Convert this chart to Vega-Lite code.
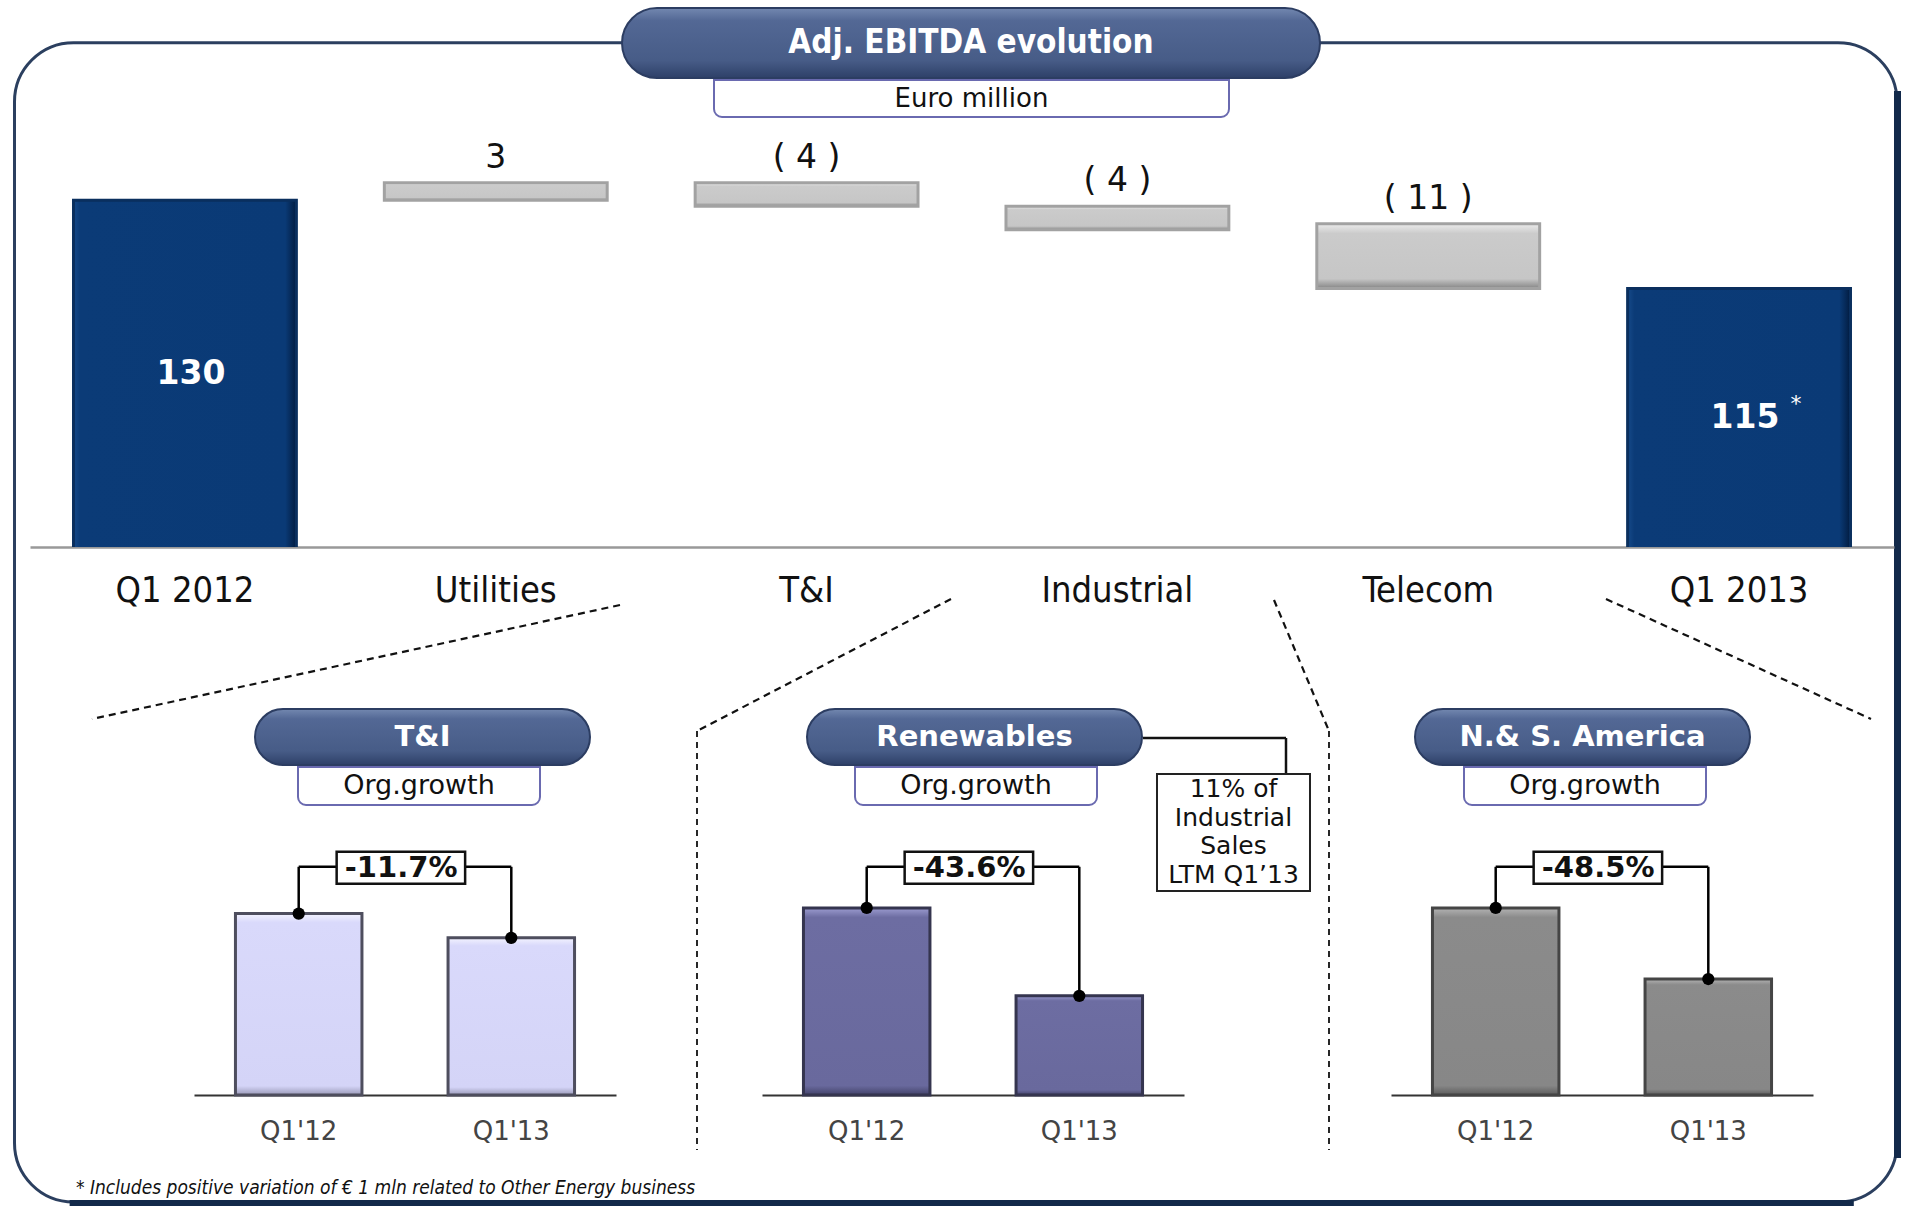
{
  "$schema": "https://vega.github.io/schema/vega-lite/v6.json",
  "background": "white",
  "padding": {"left": 12, "top": 7, "right": 4, "bottom": 0},
  "autosize": {"type": "pad"},
  "config": {"view": {"stroke": null}, "axis": {"grid": false}, "concat": {"spacing": 0}, "font": "DejaVu Sans"},
  "datasets": {
    "wf": [
      {"cat": "Q1 2012", "start": 0, "end": 130, "label": "130", "type": "total"},
      {"cat": "Utilities", "start": 130, "end": 133, "label": "3", "type": "delta"},
      {"cat": "T&I", "start": 133, "end": 129, "label": "( 4 )", "type": "delta"},
      {"cat": "Industrial", "start": 129, "end": 125, "label": "( 4 )", "type": "delta"},
      {"cat": "Telecom", "start": 126, "end": 115, "label": "( 11 )", "type": "delta"},
      {"cat": "Q1 2013", "start": 0, "end": 115, "label": "115", "type": "total"}
    ],
    "sub": [
      {"panel": "T&I", "period": "Q1'12", "value": 97},
      {"panel": "T&I", "period": "Q1'13", "value": 84},
      {"panel": "Renewables", "period": "Q1'12", "value": 100},
      {"panel": "Renewables", "period": "Q1'13", "value": 53},
      {"panel": "N.& S. America", "period": "Q1'12", "value": 100},
      {"panel": "N.& S. America", "period": "Q1'13", "value": 62}
    ],
    "growth": [
      {"panel": "T&I", "from": "Q1'12", "to": "Q1'13", "label": "-11.7%"},
      {"panel": "Renewables", "from": "Q1'12", "to": "Q1'13", "label": "-43.6%"},
      {"panel": "N.& S. America", "from": "Q1'12", "to": "Q1'13", "label": "-48.5%"}
    ]
  },
  "vconcat": [
    {
      "width": 1888, "height": 1,
      "data": {"values": [{}]},
      "layer": [
        {"mark": {"type": "rect", "filled": false, "stroke": "#2b3f5f", "strokeWidth": 3, "cornerRadius": 59},
         "encoding": {
           "x": {"datum": 0.000794, "type": "quantitative", "scale": {"domain": [0, 1], "nice": false, "zero": false}, "axis": null},
           "x2": {"datum": 0.997881},
           "y": {"datum": 0.970225, "type": "quantitative", "scale": {"domain": [0, 1], "range": [1199, 0], "nice": false, "zero": false}, "axis": null},
           "y2": {"datum": 0.003336}}},
        {"mark": {"type": "rule", "color": "#12294a", "strokeWidth": 7},
         "encoding": {"x": {"datum": 0.998146, "type": "quantitative"}, "y": {"datum": 0.93, "type": "quantitative"}, "y2": {"datum": 0.04}}},
        {"mark": {"type": "rule", "color": "#12294a", "strokeWidth": 6},
         "encoding": {"x": {"datum": 0.03, "type": "quantitative"}, "x2": {"datum": 0.975}, "y": {"datum": 0.002502, "type": "quantitative"}}},
        {"mark": {"type": "rule", "color": "#111111", "strokeWidth": 2.2, "strokeDash": [7, 5]},
         "encoding": {"x": {"datum": 0.321504, "type": "quantitative"}, "x2": {"datum": 0.041843}, "y": {"datum": 0.501251, "type": "quantitative"}, "y2": {"datum": 0.406172}}},
        {"mark": {"type": "rule", "color": "#111111", "strokeWidth": 2.2, "strokeDash": [7, 5]},
         "encoding": {"x": {"datum": 0.496822, "type": "quantitative"}, "x2": {"datum": 0.362288}, "y": {"datum": 0.506255, "type": "quantitative"}, "y2": {"datum": 0.396164}}},
        {"mark": {"type": "rule", "color": "#111111", "strokeWidth": 1.8, "strokeDash": [6, 5]},
         "encoding": {"x": {"datum": 0.362288, "type": "quantitative"}, "y": {"datum": 0.396164, "type": "quantitative"}, "y2": {"datum": 0.046706}}},
        {"mark": {"type": "rule", "color": "#111111", "strokeWidth": 2.2, "strokeDash": [7, 5]},
         "encoding": {"x": {"datum": 0.667903, "type": "quantitative"}, "x2": {"datum": 0.697034}, "y": {"datum": 0.505421, "type": "quantitative"}, "y2": {"datum": 0.396164}}},
        {"mark": {"type": "rule", "color": "#111111", "strokeWidth": 1.8, "strokeDash": [6, 5]},
         "encoding": {"x": {"datum": 0.697034, "type": "quantitative"}, "y": {"datum": 0.396164, "type": "quantitative"}, "y2": {"datum": 0.046706}}},
        {"mark": {"type": "rule", "color": "#111111", "strokeWidth": 2.2, "strokeDash": [7, 5]},
         "encoding": {"x": {"datum": 0.843750, "type": "quantitative"}, "x2": {"datum": 0.984110}, "y": {"datum": 0.506255, "type": "quantitative"}, "y2": {"datum": 0.406172}}},
        {"mark": {"type": "rule", "color": "#111111", "strokeWidth": 2.5},
         "encoding": {"x": {"datum": 0.598517, "type": "quantitative"}, "x2": {"datum": 0.674258}, "y": {"datum": 0.390325, "type": "quantitative"}}},
        {"mark": {"type": "rule", "color": "#111111", "strokeWidth": 2.5},
         "encoding": {"x": {"datum": 0.674258, "type": "quantitative"}, "y": {"datum": 0.390325, "type": "quantitative"}, "y2": {"datum": 0.359466}}},
        {"mark": {"type": "rect", "fill": "white", "stroke": "#222222", "strokeWidth": 2},
         "encoding": {"x": {"datum": 0.605932, "type": "quantitative"}, "x2": {"datum": 0.686970}, "y": {"datum": 0.360300, "type": "quantitative"}, "y2": {"datum": 0.262719}}},
        {"mark": {"type": "text", "text": ["11% of", "Industrial", "Sales", "LTM Q1’13"], "fontSize": 25, "lineHeight": 28.7, "color": "#111111", "baseline": "middle"},
         "encoding": {"x": {"datum": 0.646451, "type": "quantitative"}, "y": {"datum": 0.347790, "type": "quantitative"}}},
        {"mark": {"type": "text", "text": "* Includes positive variation of € 1 mln related to Other Energy business", "font": "DejaVu Sans Condensed, DejaVu Sans", "fontSize": 19, "fontStyle": "italic", "align": "left", "baseline": "middle", "color": "#111111"},
         "encoding": {"x": {"datum": 0.033369, "type": "quantitative"}, "y": {"datum": 0.015013, "type": "quantitative"}}}
      ]
    },
    {
      "vconcat": [
        {
          "hconcat": [
            {"width": 608, "height": 1, "data": {"values": [{}]}, "mark": {"type": "rect", "opacity": 0}, "encoding": {}},
            {
              "width": 698, "height": 70,
              "data": {"values": [{}]},
              "layer": [
                {"mark": {"type": "rect", "cornerRadius": 35, "stroke": "#2c3d62", "strokeWidth": 2,
                  "fill": {"gradient": "linear", "x1": 0, "y1": 0, "x2": 0, "y2": 1, "stops": [{"offset": 0, "color": "#7388b0"}, {"offset": 0.18, "color": "#536895"}, {"offset": 0.75, "color": "#475c87"}, {"offset": 1, "color": "#2e4068"}]}},
                 "encoding": {}},
                {"mark": {"type": "text", "text": "Adj. EBITDA evolution", "font": "DejaVu Sans Condensed, DejaVu Sans", "fontSize": 33, "fontWeight": "bold", "color": "white", "baseline": "middle"}, "encoding": {}}
              ]
            }
          ]
        },
        {
          "hconcat": [
            {"width": 700, "height": 1, "data": {"values": [{}]}, "mark": {"type": "rect", "opacity": 0}, "encoding": {}},
            {
              "width": 515, "height": 37,
              "data": {"values": [{}]},
              "layer": [
                {"mark": {"type": "rect", "fill": "white", "stroke": "#6a6ab0", "strokeWidth": 2, "cornerRadiusBottomLeft": 8, "cornerRadiusBottomRight": 8}, "encoding": {}},
                {"mark": {"type": "text", "text": "Euro million", "fontSize": 26, "color": "#111111", "baseline": "middle"}, "encoding": {}}
              ]
            }
          ]
        },
        {
          "hconcat": [
            {"width": 17, "height": 1, "data": {"values": [{}]}, "mark": {"type": "rect", "opacity": 0}, "encoding": {}},
            {
              "width": 1864, "height": 429,
              "data": {"name": "wf"},
              "encoding": {
                "x": {"field": "cat", "type": "nominal",
                  "scale": {"domain": ["Q1 2012", "Utilities", "T&I", "Industrial", "Telecom", "Q1 2013"], "paddingInner": 0.283, "paddingOuter": 0.14},
                  "axis": {"title": null, "domain": true, "domainColor": "#999999", "domainWidth": 2.5, "ticks": true, "tickSize": 0, "labelFont": "DejaVu Sans Condensed, DejaVu Sans", "labelFontSize": 36, "labelColor": "#111111", "labelPadding": 43, "labelBaseline": "middle", "labelAngle": 0}}
              },
              "layer": [
                {"transform": [{"filter": "datum.type === 'total'"}],
                 "mark": {"type": "bar", "stroke": "#0a2f5e", "strokeWidth": 3, "clip": true,
                   "fill": {"gradient": "linear", "x1": 0, "y1": 0, "x2": 1, "y2": 0, "stops": [{"offset": 0, "color": "#164a8a"}, {"offset": 0.03, "color": "#0b3b77"}, {"offset": 0.95, "color": "#0a3a76"}, {"offset": 1, "color": "#021c40"}]}},
                 "encoding": {"y": {"field": "end", "type": "quantitative", "scale": {"domain": [71, 144], "zero": false, "nice": false}, "axis": null}, "y2": {"field": "start"}}},
                {"transform": [{"filter": "datum.type === 'delta'"}],
                 "mark": {"type": "bar", "stroke": "#a2a2a2", "strokeWidth": 3,
                   "fill": {"gradient": "linear", "x1": 0, "y1": 0, "x2": 0, "y2": 1, "stops": [{"offset": 0, "color": "#ececec"}, {"offset": 0.15, "color": "#cbcbcb"}, {"offset": 0.85, "color": "#c6c6c6"}, {"offset": 1, "color": "#858585"}]}},
                 "encoding": {"y": {"field": "end", "type": "quantitative"}, "y2": {"field": "start"}}},
                {"transform": [{"filter": "datum.type === 'delta'"}, {"calculate": "max(datum.start, datum.end)", "as": "top"}],
                 "mark": {"type": "text", "fontSize": 33, "dy": -15, "baseline": "alphabetic", "color": "#111111"},
                 "encoding": {"y": {"field": "top", "type": "quantitative"}, "text": {"field": "label"}}},
                {"transform": [{"filter": "datum.type === 'total'"}, {"calculate": "(datum.end + 71) / 2", "as": "mid"}],
                 "mark": {"type": "text", "fontSize": 33, "fontWeight": "bold", "color": "white", "baseline": "middle", "dx": 6},
                 "encoding": {"y": {"field": "mid", "type": "quantitative"}, "text": {"field": "label"}}},
                {"transform": [{"filter": "datum.cat === 'Q1 2013'"}, {"calculate": "(datum.end + 71) / 2", "as": "mid"}],
                 "mark": {"type": "text", "text": "*", "fontSize": 22, "color": "white", "dx": 57, "dy": -14, "baseline": "middle"},
                 "encoding": {"y": {"field": "mid", "type": "quantitative"}}}
              ]
            }
          ]
        },
        {"width": 1, "height": 100, "data": {"values": [{}]}, "mark": {"type": "rect", "opacity": 0}, "encoding": {}},
        {
          "hconcat": [
            {"width": 181, "height": 1, "data": {"values": [{}]}, "mark": {"type": "rect", "opacity": 0}, "encoding": {}},
            {
              "vconcat": [
                {"hconcat": [
                  {"width": 60, "height": 1, "data": {"values": [{}]}, "mark": {"type": "rect", "opacity": 0}, "encoding": {}},
                  {"width": 335, "height": 56, "data": {"values": [{}]}, "layer": [
                    {"mark": {"type": "rect", "cornerRadius": 28, "stroke": "#2c3d62", "strokeWidth": 2,
                      "fill": {"gradient": "linear", "x1": 0, "y1": 0, "x2": 0, "y2": 1, "stops": [{"offset": 0, "color": "#7388b0"}, {"offset": 0.18, "color": "#536895"}, {"offset": 0.75, "color": "#475c87"}, {"offset": 1, "color": "#2e4068"}]}}, "encoding": {}},
                    {"mark": {"type": "text", "text": "T&I", "fontSize": 29, "fontWeight": "bold", "color": "white", "baseline": "middle"}, "encoding": {}}
                  ]}
                ]},
                {"hconcat": [
                  {"width": 103, "height": 1, "data": {"values": [{}]}, "mark": {"type": "rect", "opacity": 0}, "encoding": {}},
                  {"width": 242, "height": 38, "data": {"values": [{}]}, "layer": [
                    {"mark": {"type": "rect", "fill": "white", "stroke": "#6a6ab0", "strokeWidth": 2, "cornerRadiusBottomLeft": 8, "cornerRadiusBottomRight": 8}, "encoding": {}},
                    {"mark": {"type": "text", "text": "Org.growth", "fontSize": 27, "color": "#111111", "baseline": "middle"}, "encoding": {}}
                  ]}
                ]},
                {
                  "width": 422, "height": 289,
                  "encoding": {"x": {"field": "period", "type": "nominal", "scale": {"domain": ["Q1'12", "Q1'13"], "paddingInner": 0.405, "paddingOuter": 0.195},
                    "axis": {"title": null, "domainColor": "#333333", "domainWidth": 2, "ticks": true, "tickSize": 0, "labelFontSize": 26, "labelColor": "#444444", "labelPadding": 36, "labelBaseline": "middle", "labelAngle": 0}}},
                  "layer": [
                    {"data": {"name": "sub"}, "transform": [{"filter": "datum.panel === 'T&I'"}],
                     "mark": {"type": "bar", "stroke": "#4e4e5e", "strokeWidth": 3,
                       "fill": {"gradient": "linear", "x1": 0, "y1": 0, "x2": 0, "y2": 1, "stops": [{"offset": 0, "color": "#f3f3ff"}, {"offset": 0.05, "color": "#d9d9fb"}, {"offset": 0.95, "color": "#d4d4f7"}, {"offset": 1, "color": "#9a9ab8"}]}},
                     "encoding": {"y": {"field": "value", "type": "quantitative", "scale": {"domain": [0, 154.5], "nice": false}, "axis": null}}},
                    {"data": {"name": "sub"}, "transform": [{"filter": "datum.panel === 'T&I'"}],
                     "mark": {"type": "rule", "color": "#000000", "strokeWidth": 2.5},
                     "encoding": {"y": {"field": "value", "type": "quantitative"}, "y2": {"datum": 122}}},
                    {"data": {"name": "growth"}, "transform": [{"filter": "datum.panel === 'T&I'"}],
                     "mark": {"type": "rule", "color": "#000000", "strokeWidth": 2.5},
                     "encoding": {"x": {"field": "from", "type": "nominal", "bandPosition": 0.5, "title": null}, "x2": {"field": "to", "bandPosition": 0.5}, "y": {"datum": 122, "type": "quantitative"}}},
                    {"data": {"name": "growth"}, "transform": [{"filter": "datum.panel === 'T&I'"}],
                     "mark": {"type": "rect", "fill": "white", "stroke": "#111111", "strokeWidth": 2.5},
                     "encoding": {"x": {"field": "from", "type": "nominal", "bandPosition": 0.8, "title": null}, "x2": {"field": "to", "bandPosition": 0.135}, "y": {"datum": 130, "type": "quantitative"}, "y2": {"datum": 113}}},
                    {"data": {"name": "growth"}, "transform": [{"filter": "datum.panel === 'T&I'"}],
                     "mark": {"type": "text", "fontSize": 29, "fontWeight": "bold", "color": "#111111", "baseline": "middle"},
                     "encoding": {"x": {"field": "from", "type": "nominal", "bandPosition": 1.31, "title": null}, "y": {"datum": 121.5, "type": "quantitative"}, "text": {"field": "label"}}},
                    {"data": {"name": "sub"}, "transform": [{"filter": "datum.panel === 'T&I'"}],
                     "mark": {"type": "point", "filled": true, "color": "#000000", "size": 150, "opacity": 1},
                     "encoding": {"y": {"field": "value", "type": "quantitative"}}}
                  ]
                }
              ]
            },
            {"width": 146, "height": 1, "data": {"values": [{}]}, "mark": {"type": "rect", "opacity": 0}, "encoding": {}},
            {
              "vconcat": [
                {"hconcat": [
                  {"width": 44, "height": 1, "data": {"values": [{}]}, "mark": {"type": "rect", "opacity": 0}, "encoding": {}},
                  {"width": 335, "height": 56, "data": {"values": [{}]}, "layer": [
                    {"mark": {"type": "rect", "cornerRadius": 28, "stroke": "#2c3d62", "strokeWidth": 2,
                      "fill": {"gradient": "linear", "x1": 0, "y1": 0, "x2": 0, "y2": 1, "stops": [{"offset": 0, "color": "#7388b0"}, {"offset": 0.18, "color": "#536895"}, {"offset": 0.75, "color": "#475c87"}, {"offset": 1, "color": "#2e4068"}]}}, "encoding": {}},
                    {"mark": {"type": "text", "text": "Renewables", "fontSize": 29, "fontWeight": "bold", "color": "white", "baseline": "middle"}, "encoding": {}}
                  ]}
                ]},
                {"hconcat": [
                  {"width": 92, "height": 1, "data": {"values": [{}]}, "mark": {"type": "rect", "opacity": 0}, "encoding": {}},
                  {"width": 242, "height": 38, "data": {"values": [{}]}, "layer": [
                    {"mark": {"type": "rect", "fill": "white", "stroke": "#6a6ab0", "strokeWidth": 2, "cornerRadiusBottomLeft": 8, "cornerRadiusBottomRight": 8}, "encoding": {}},
                    {"mark": {"type": "text", "text": "Org.growth", "fontSize": 27, "color": "#111111", "baseline": "middle"}, "encoding": {}}
                  ]}
                ]},
                {
                  "width": 422, "height": 289,
                  "encoding": {"x": {"field": "period", "type": "nominal", "scale": {"domain": ["Q1'12", "Q1'13"], "paddingInner": 0.405, "paddingOuter": 0.195},
                    "axis": {"title": null, "domainColor": "#333333", "domainWidth": 2, "ticks": true, "tickSize": 0, "labelFontSize": 26, "labelColor": "#444444", "labelPadding": 36, "labelBaseline": "middle", "labelAngle": 0}}},
                  "layer": [
                    {"data": {"name": "sub"}, "transform": [{"filter": "datum.panel === 'Renewables'"}],
                     "mark": {"type": "bar", "stroke": "#35354f", "strokeWidth": 3,
                       "fill": {"gradient": "linear", "x1": 0, "y1": 0, "x2": 0, "y2": 1, "stops": [{"offset": 0, "color": "#9c9cd0"}, {"offset": 0.05, "color": "#6d6da2"}, {"offset": 0.95, "color": "#69699d"}, {"offset": 1, "color": "#43436a"}]}},
                     "encoding": {"y": {"field": "value", "type": "quantitative", "scale": {"domain": [0, 154.5], "nice": false}, "axis": null}}},
                    {"data": {"name": "sub"}, "transform": [{"filter": "datum.panel === 'Renewables'"}],
                     "mark": {"type": "rule", "color": "#000000", "strokeWidth": 2.5},
                     "encoding": {"y": {"field": "value", "type": "quantitative"}, "y2": {"datum": 122}}},
                    {"data": {"name": "growth"}, "transform": [{"filter": "datum.panel === 'Renewables'"}],
                     "mark": {"type": "rule", "color": "#000000", "strokeWidth": 2.5},
                     "encoding": {"x": {"field": "from", "type": "nominal", "bandPosition": 0.5, "title": null}, "x2": {"field": "to", "bandPosition": 0.5}, "y": {"datum": 122, "type": "quantitative"}}},
                    {"data": {"name": "growth"}, "transform": [{"filter": "datum.panel === 'Renewables'"}],
                     "mark": {"type": "rect", "fill": "white", "stroke": "#111111", "strokeWidth": 2.5},
                     "encoding": {"x": {"field": "from", "type": "nominal", "bandPosition": 0.8, "title": null}, "x2": {"field": "to", "bandPosition": 0.135}, "y": {"datum": 130, "type": "quantitative"}, "y2": {"datum": 113}}},
                    {"data": {"name": "growth"}, "transform": [{"filter": "datum.panel === 'Renewables'"}],
                     "mark": {"type": "text", "fontSize": 29, "fontWeight": "bold", "color": "#111111", "baseline": "middle"},
                     "encoding": {"x": {"field": "from", "type": "nominal", "bandPosition": 1.31, "title": null}, "y": {"datum": 121.5, "type": "quantitative"}, "text": {"field": "label"}}},
                    {"data": {"name": "sub"}, "transform": [{"filter": "datum.panel === 'Renewables'"}],
                     "mark": {"type": "point", "filled": true, "color": "#000000", "size": 150, "opacity": 1},
                     "encoding": {"y": {"field": "value", "type": "quantitative"}}}
                  ]
                }
              ]
            },
            {"width": 207, "height": 1, "data": {"values": [{}]}, "mark": {"type": "rect", "opacity": 0}, "encoding": {}},
            {
              "vconcat": [
                {"hconcat": [
                  {"width": 23, "height": 1, "data": {"values": [{}]}, "mark": {"type": "rect", "opacity": 0}, "encoding": {}},
                  {"width": 335, "height": 56, "data": {"values": [{}]}, "layer": [
                    {"mark": {"type": "rect", "cornerRadius": 28, "stroke": "#2c3d62", "strokeWidth": 2,
                      "fill": {"gradient": "linear", "x1": 0, "y1": 0, "x2": 0, "y2": 1, "stops": [{"offset": 0, "color": "#7388b0"}, {"offset": 0.18, "color": "#536895"}, {"offset": 0.75, "color": "#475c87"}, {"offset": 1, "color": "#2e4068"}]}}, "encoding": {}},
                    {"mark": {"type": "text", "text": "N.& S. America", "fontSize": 29, "fontWeight": "bold", "color": "white", "baseline": "middle"}, "encoding": {}}
                  ]}
                ]},
                {"hconcat": [
                  {"width": 72, "height": 1, "data": {"values": [{}]}, "mark": {"type": "rect", "opacity": 0}, "encoding": {}},
                  {"width": 242, "height": 38, "data": {"values": [{}]}, "layer": [
                    {"mark": {"type": "rect", "fill": "white", "stroke": "#6a6ab0", "strokeWidth": 2, "cornerRadiusBottomLeft": 8, "cornerRadiusBottomRight": 8}, "encoding": {}},
                    {"mark": {"type": "text", "text": "Org.growth", "fontSize": 27, "color": "#111111", "baseline": "middle"}, "encoding": {}}
                  ]}
                ]},
                {
                  "width": 422, "height": 289,
                  "encoding": {"x": {"field": "period", "type": "nominal", "scale": {"domain": ["Q1'12", "Q1'13"], "paddingInner": 0.405, "paddingOuter": 0.195},
                    "axis": {"title": null, "domainColor": "#333333", "domainWidth": 2, "ticks": true, "tickSize": 0, "labelFontSize": 26, "labelColor": "#444444", "labelPadding": 36, "labelBaseline": "middle", "labelAngle": 0}}},
                  "layer": [
                    {"data": {"name": "sub"}, "transform": [{"filter": "datum.panel === 'N.& S. America'"}],
                     "mark": {"type": "bar", "stroke": "#454545", "strokeWidth": 3,
                       "fill": {"gradient": "linear", "x1": 0, "y1": 0, "x2": 0, "y2": 1, "stops": [{"offset": 0, "color": "#b4b4b4"}, {"offset": 0.05, "color": "#8b8b8b"}, {"offset": 0.95, "color": "#878787"}, {"offset": 1, "color": "#5c5c5c"}]}},
                     "encoding": {"y": {"field": "value", "type": "quantitative", "scale": {"domain": [0, 154.5], "nice": false}, "axis": null}}},
                    {"data": {"name": "sub"}, "transform": [{"filter": "datum.panel === 'N.& S. America'"}],
                     "mark": {"type": "rule", "color": "#000000", "strokeWidth": 2.5},
                     "encoding": {"y": {"field": "value", "type": "quantitative"}, "y2": {"datum": 122}}},
                    {"data": {"name": "growth"}, "transform": [{"filter": "datum.panel === 'N.& S. America'"}],
                     "mark": {"type": "rule", "color": "#000000", "strokeWidth": 2.5},
                     "encoding": {"x": {"field": "from", "type": "nominal", "bandPosition": 0.5, "title": null}, "x2": {"field": "to", "bandPosition": 0.5}, "y": {"datum": 122, "type": "quantitative"}}},
                    {"data": {"name": "growth"}, "transform": [{"filter": "datum.panel === 'N.& S. America'"}],
                     "mark": {"type": "rect", "fill": "white", "stroke": "#111111", "strokeWidth": 2.5},
                     "encoding": {"x": {"field": "from", "type": "nominal", "bandPosition": 0.8, "title": null}, "x2": {"field": "to", "bandPosition": 0.135}, "y": {"datum": 130, "type": "quantitative"}, "y2": {"datum": 113}}},
                    {"data": {"name": "growth"}, "transform": [{"filter": "datum.panel === 'N.& S. America'"}],
                     "mark": {"type": "text", "fontSize": 29, "fontWeight": "bold", "color": "#111111", "baseline": "middle"},
                     "encoding": {"x": {"field": "from", "type": "nominal", "bandPosition": 1.31, "title": null}, "y": {"datum": 121.5, "type": "quantitative"}, "text": {"field": "label"}}},
                    {"data": {"name": "sub"}, "transform": [{"filter": "datum.panel === 'N.& S. America'"}],
                     "mark": {"type": "point", "filled": true, "color": "#000000", "size": 150, "opacity": 1},
                     "encoding": {"y": {"field": "value", "type": "quantitative"}}}
                  ]
                }
              ]
            }
          ]
        }
      ]
    }
  ],
  "spacing": 0,
  "bounds": "flush"
}
